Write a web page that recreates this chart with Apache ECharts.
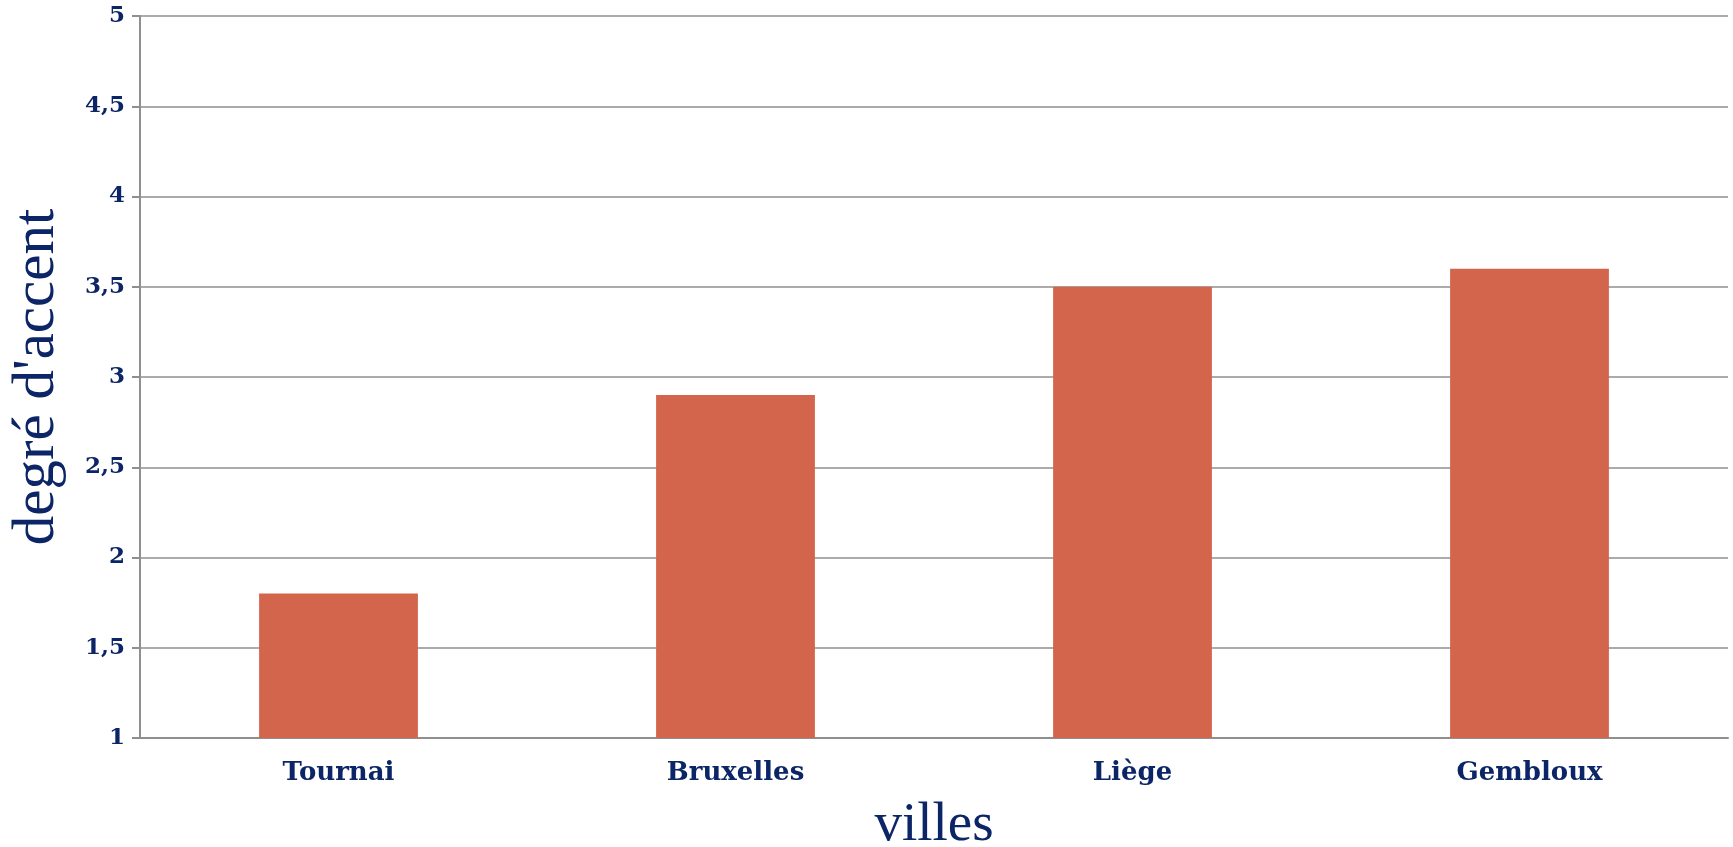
<!DOCTYPE html>
<html>
<head>
<meta charset="utf-8">
<script src="https://cdn.jsdelivr.net/npm/echarts@6/dist/echarts.min.js"></script>
<style>
  html, body { margin: 0; padding: 0; background: #fff; }
  #main { width: 1733px; height: 847px; }
</style>
</head>
<body>
<div id="main"></div>
<script>
// data
var villes = ['Tournai', 'Bruxelles', 'Liège', 'Gembloux'];
var degre = [1.8, 2.9, 3.5, 3.6];

var navy = '#0c2566';
var gris = '#8f8f8f';

var myChart = echarts.init(document.getElementById('main'));
var option = {
    animation: false,
    grid: { left: 140, right: 5, top: 16, bottom: 109, outerBoundsMode: 'none', containLabel: false },
    xAxis: {
        type: 'category',
        data: villes,
        name: 'villes',
        nameLocation: 'middle',
        nameGap: 60,
        nameTextStyle: { fontFamily: 'Liberation Serif', fontSize: 55, color: navy },
        axisLine: { lineStyle: { color: gris, width: 2 } },
        axisTick: { show: false },
        axisLabel: {
            margin: 22,
            fontFamily: 'DejaVu Serif', fontWeight: 'bold', fontSize: 26, color: navy
        }
    },
    yAxis: {
        type: 'value',
        min: 1,
        max: 5,
        interval: 0.5,
        name: "degré d'accent",
        nameLocation: 'middle',
        nameGap: 73,
        nameTextStyle: { fontFamily: 'Liberation Serif', fontSize: 59, color: navy },
        axisLine: { show: true, lineStyle: { color: gris, width: 2 } },
        axisTick: { show: true, length: 8, lineStyle: { color: gris, width: 2 } },
        splitLine: { lineStyle: { color: gris, width: 1.5 } },
        axisLabel: {
            margin: 15,
            fontFamily: 'DejaVu Serif', fontWeight: 'bold', fontSize: 23, color: navy,
            formatter: function (v) { return String(v).replace('.', ','); }
        }
    },
    series: [{
        type: 'bar',
        data: degre,
        barCategoryGap: '60%',
        itemStyle: { color: '#d2654b' }
    }]
};
myChart.setOption(option);
</script>
</body>
</html>
